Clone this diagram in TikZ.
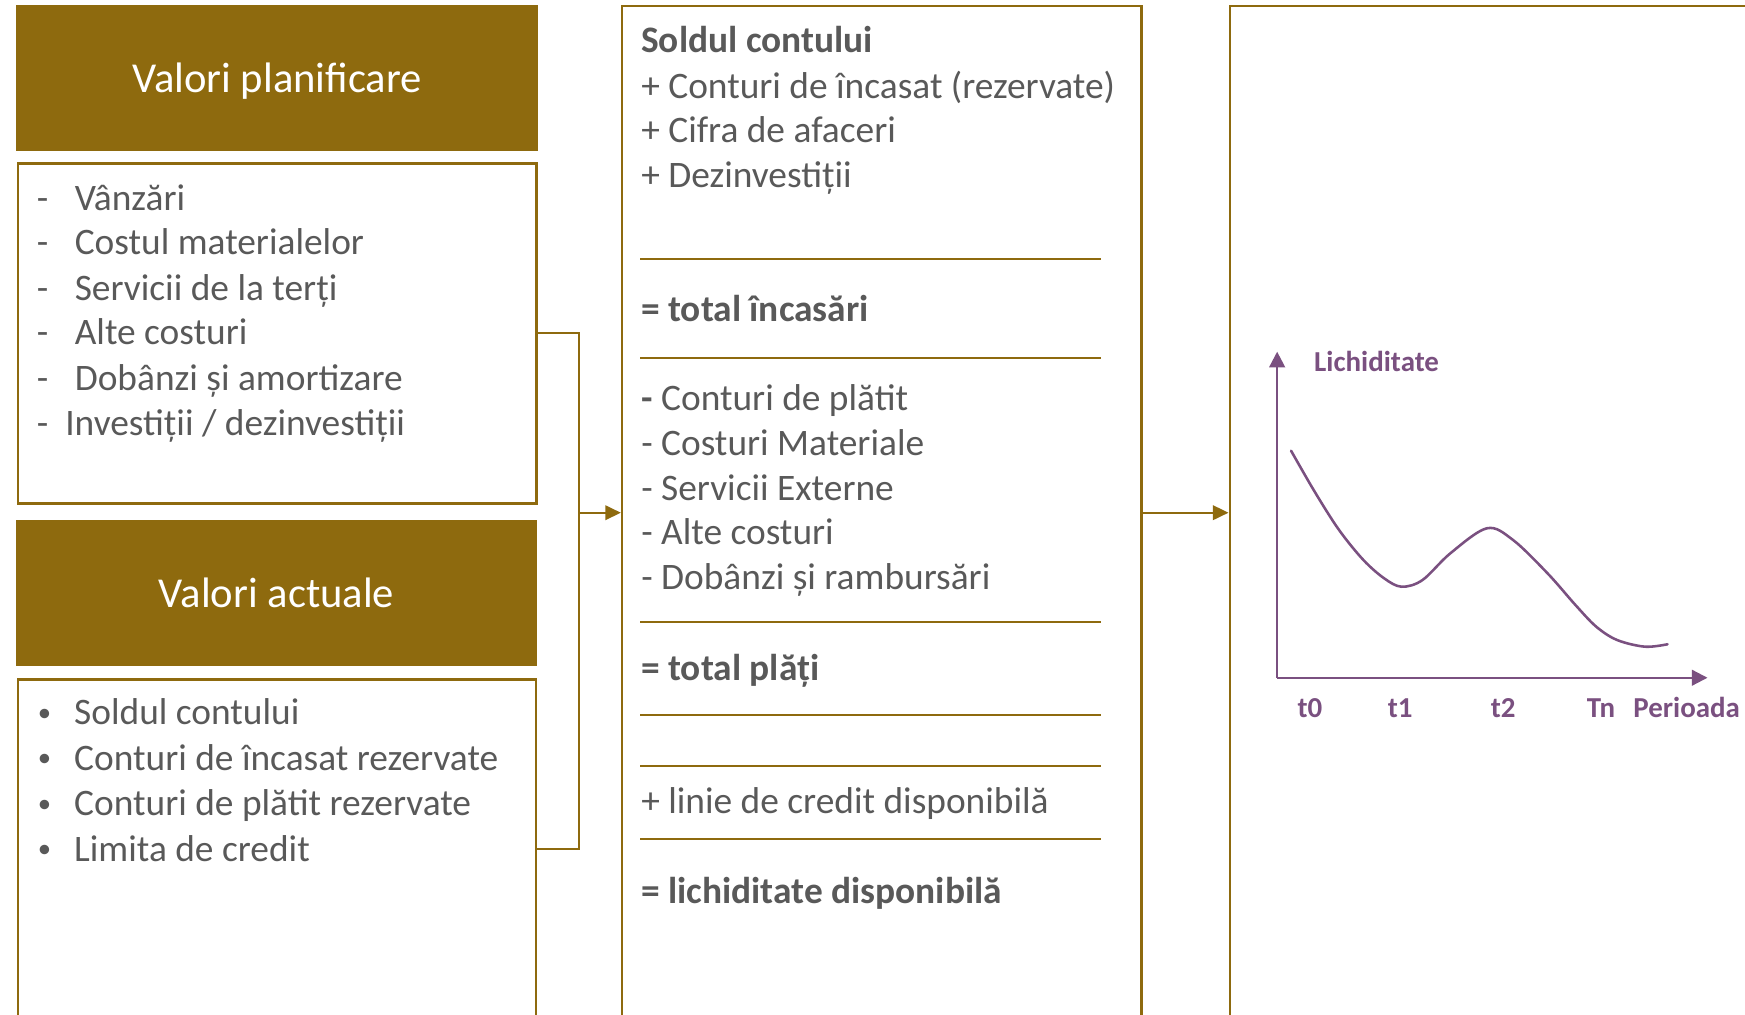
\documentclass[tikz,border=0pt]{standalone}
\usepackage{fontspec}
\setmainfont{Carlito}
\usetikzlibrary{arrows.meta}
\definecolor{gold}{RGB}{142,106,14}
\definecolor{ink}{RGB}{89,89,89}
\definecolor{plum}{RGB}{122,80,128}

\begin{document}
\begin{tikzpicture}[x=1pt,y=-1pt,
  titlebox/.style={draw=gold, fill=gold, line width=1pt, text=white, inner sep=0pt,
    text depth=0pt, font=\fontsize{38.3}{46}\selectfont},
  framebox/.style={draw=gold, line width=2.2pt, inner sep=0pt},
  entry/.style={anchor=base west, inner sep=0pt, yshift=-1.5pt, text=ink,
    font=\fontsize{33.6}{40}\selectfont},
  strong/.style={entry, font=\fontsize{33.6}{40}\selectfont\bfseries},
  bulletmark/.style={anchor=base, inner sep=0pt, yshift=-1.5pt, text=ink,
    font=\fontsize{24}{30}\selectfont},
  rule/.style={draw=gold, line width=2pt},
  link/.style={draw=gold, line width=2pt},
  tip/.style={-{Triangle[length=14pt,width=13pt]}},
  axis/.style={draw=plum, line width=2pt, -{Triangle[length=14pt,width=14pt]}},
  graphlabel/.style={anchor=base west, inner sep=0pt, text=plum,
    font=\fontsize{26}{31}\selectfont\bfseries},
]
\useasboundingbox (0,0) rectangle (1568,912);
\clip (0,0) rectangle (1568,912);

% ---- left column: planned values ----
\node[titlebox, minimum width=467.7pt, minimum height=130.6pt] (planT) at (248.95,70.1) {Valori planificare};
\node[framebox, minimum width=465.9pt, minimum height=305.5pt] (planL) at (249.15,299.55) {};
\foreach \y/\t [count=\i] in {187.2/Vânzări, 227.6/Costul materialelor, 268.1/Servicii de la terți,
                              308.5/Alte costuri, 349.0/Dobânzi și amortizare} {
  \node[entry] (pd\i) at (33,\y) {-};
  \node[entry] (pt\i) at (67,\y) {\t};
}
\node[entry] (pd6) at (33,389.4) {-};
\node[entry] (pt6) at (58.5,389.4) {Investiții / dezinvestiții};

% ---- left column: actual values ----
\node[titlebox, minimum width=467.2pt, minimum height=130.2pt] (actT) at (248.5,533) {Valori actuale};
\node[framebox, minimum width=465.4pt, minimum height=305.6pt] (actL) at (248.7,763.2) {};
\foreach \y/\t [count=\i] in {649.4/Soldul contului, 690.4/Conturi de încasat rezervate,
                              731.4/Conturi de plătit rezervate, 772.4/Limita de credit} {
  \node[bulletmark] (ab\i) at (40,\y-3) {•};
  \node[entry] (at\i) at (66.5,\y) {\t};
}

% ---- middle column: liquidity computation ----
\node[framebox, minimum width=466.6pt, minimum height=910.6pt] (mid) at (792.3,460.7) {};
\node[strong] (m1) at (576,45.5) {Soldul contului};
\node[entry] (m2) at (576,86.9) {+ Conturi de încasat (rezervate)};
\node[entry] (m3) at (576,126.7) {+ Cifra de afaceri};
\node[entry] (m4) at (576,166.8) {+ Dezinvestiții};
\node[strong] (m5) at (576,287.5) {= total încasări};
\node[entry] (m6) at (576,367.8) {\textbf{-} Conturi de plătit};
\node[entry] (m7) at (576,408.2) {- Costuri Materiale};
\node[entry] (m8) at (576,448.4) {- Servicii Externe};
\node[entry] (m9) at (576,488.2) {- Alte costuri};
\node[entry] (m10) at (576,528.6) {- Dobânzi și rambursări};
\node[strong] (m11) at (576,610.4) {= total plăți};
\node[entry] (m12) at (576,729.3) {+ linie de credit disponibilă};
\node[strong] (m13) at (576,810.2) {= lichiditate disponibilă};
\foreach \y in {233.0,321.4,559.2,642.5,688.6,753.6}
  \draw[rule] (575.3,\y) -- (989.4,\y);

% ---- right column: liquidity over time ----
\node[framebox, minimum width=466pt, minimum height=910.6pt] (graph) at (1338,460.7) {};
\coordinate (origin) at (1147.6,609);
\coordinate (ytop) at (1147.6,316);
\coordinate (xend) at (1534.3,609);
\draw[axis] (origin) -- (ytop);
\draw[axis] (origin) -- (xend);
\node[graphlabel] (ylab) at (1180.7,333.4) {Lichiditate};
\node[graphlabel] (t0) at (1165.7,644.6) {t0};
\node[graphlabel] (t1) at (1246.9,644.6) {t1};
\node[graphlabel] (t2) at (1339.4,644.6) {t2};
\node[graphlabel] (tn) at (1425.6,644.6) {Tn};
\node[graphlabel] (xlab) at (1467.5,644.6) {Perioada};
\draw[plum, line width=2.3pt, line cap=round] plot[smooth, tension=0.55] coordinates {
  (1160.1,405.0) (1181.3,441.8) (1203.2,476.2) (1225.1,503.2) (1243.8,519.7)
  (1259.4,527.2) (1278.2,521.2) (1303.2,497.2) (1336.0,474.7) (1359.3,485.0)
  (1390.6,515.2) (1415.6,543.6) (1434.3,563.1) (1453.1,575.1) (1478.1,581.1)
  (1498.4,578.9)};

% ---- connectors ----
\coordinate (hub) at (520,460.7);
\draw[link] (planL.east) -| (hub);
\draw[link] (actL.east) -| (hub);
\draw[link, tip] (hub) -- (mid.west);
\draw[link, tip] (mid.east) -- (graph.west);
\end{tikzpicture}
\end{document}
